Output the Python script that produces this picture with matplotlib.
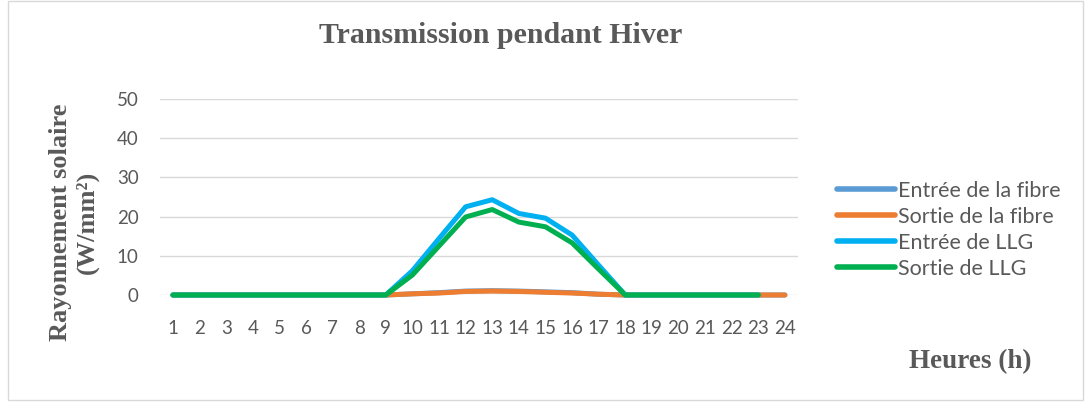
import numpy as np
import matplotlib
matplotlib.use('Agg')
import matplotlib.pyplot as plt
from matplotlib.patches import Rectangle

# Hourly irradiance, winter day
hours = list(range(1, 25))
entree_fibre = [0, 0, 0, 0, 0, 0, 0, 0, 0, 0.3, 0.6, 1.0, 1.1, 1.0, 0.8, 0.6, 0.2, 0, 0, 0, 0, 0, 0, 0]
sortie_fibre = [0, 0, 0, 0, 0, 0, 0, 0, 0, 0.3, 0.5, 0.9, 1.0, 0.9, 0.7, 0.5, 0.2, 0, 0, 0, 0, 0, 0, 0]
hours_llg = list(range(1, 24))
entree_llg = [0, 0, 0, 0, 0, 0, 0, 0, 0, 6.2, 14.4, 22.5, 24.3, 20.8, 19.6, 15.3, 7.6, 0, 0, 0, 0, 0, 0]
sortie_llg = [0, 0, 0, 0, 0, 0, 0, 0, 0, 5.1, 12.5, 19.9, 21.8, 18.6, 17.4, 13.3, 6.6, 0, 0, 0, 0, 0, 0]

tick_font = 'Lato'
tick_col = '#595959'
serif = 'Liberation Serif'

fig = plt.figure(figsize=(10.86, 4.05), dpi=100)
ax = fig.add_axes([0.147, 0.2716, 0.588, 0.484])

kw = dict(lw=3.6, clip_on=False, solid_capstyle='round')
ax.plot(hours, entree_fibre, color='#5B9BD5', label='Entrée de la fibre', **kw)
ax.plot(hours, sortie_fibre, color='#ED7D31', label='Sortie de la fibre', **kw)
ax.plot(hours_llg, entree_llg, color='#00B0F0', label='Entrée de LLG', **kw)
ax.plot(hours_llg, sortie_llg, color='#00B050', label='Sortie de LLG', **kw)

ax.set_xlim(0.5, 24.5)
ax.set_ylim(0, 50)
ax.set_yticks(range(0, 51, 10))
ax.set_xticks(hours)
ax.set_xticklabels([str(h) for h in hours], fontfamily=tick_font, fontsize=13.5, color=tick_col)
ax.set_yticklabels([str(v) for v in range(0, 51, 10)], fontfamily=tick_font, fontsize=13.5, color=tick_col)
ax.tick_params(length=0)
ax.tick_params(axis='x', pad=18)
ax.tick_params(axis='y', pad=15)
ax.grid(axis='y', color='#D9D9D9', lw=1)
ax.set_axisbelow(True)
for s in ax.spines.values():
    s.set_visible(False)

fig.text(0.461, 0.913, 'Transmission pendant Hiver', ha='center', va='center',
         family=serif, fontweight='bold', fontsize=21.5, color='#595959')
fig.text(0.068, 0.45, 'Rayonnement solaire\n(W/mm²)', ha='center', va='center', rotation=90,
         family=serif, fontweight='bold', fontsize=19, color='#595959', linespacing=1.2)
fig.text(0.893, 0.107, 'Heures (h)', ha='center', va='center',
         family=serif, fontweight='bold', fontsize=19.5, color='#595959')

leg = fig.legend(loc='upper left', bbox_to_anchor=(0.753, 0.602), frameon=False,
                 handlelength=2.7, handletextpad=0.15, labelspacing=0.28,
                 prop={'family': tick_font, 'size': 15.5})
for t in leg.get_texts():
    t.set_color(tick_col)
for h in leg.get_lines():
    h.set_linewidth(4)
    h.set_solid_capstyle('round')

# chart area border
fig.patches.append(Rectangle((0.007, 0.012), 0.99, 0.985, transform=fig.transFigure,
                             fill=False, edgecolor='#D9D9D9', lw=1))

fig.savefig('out.png', dpi=100)
